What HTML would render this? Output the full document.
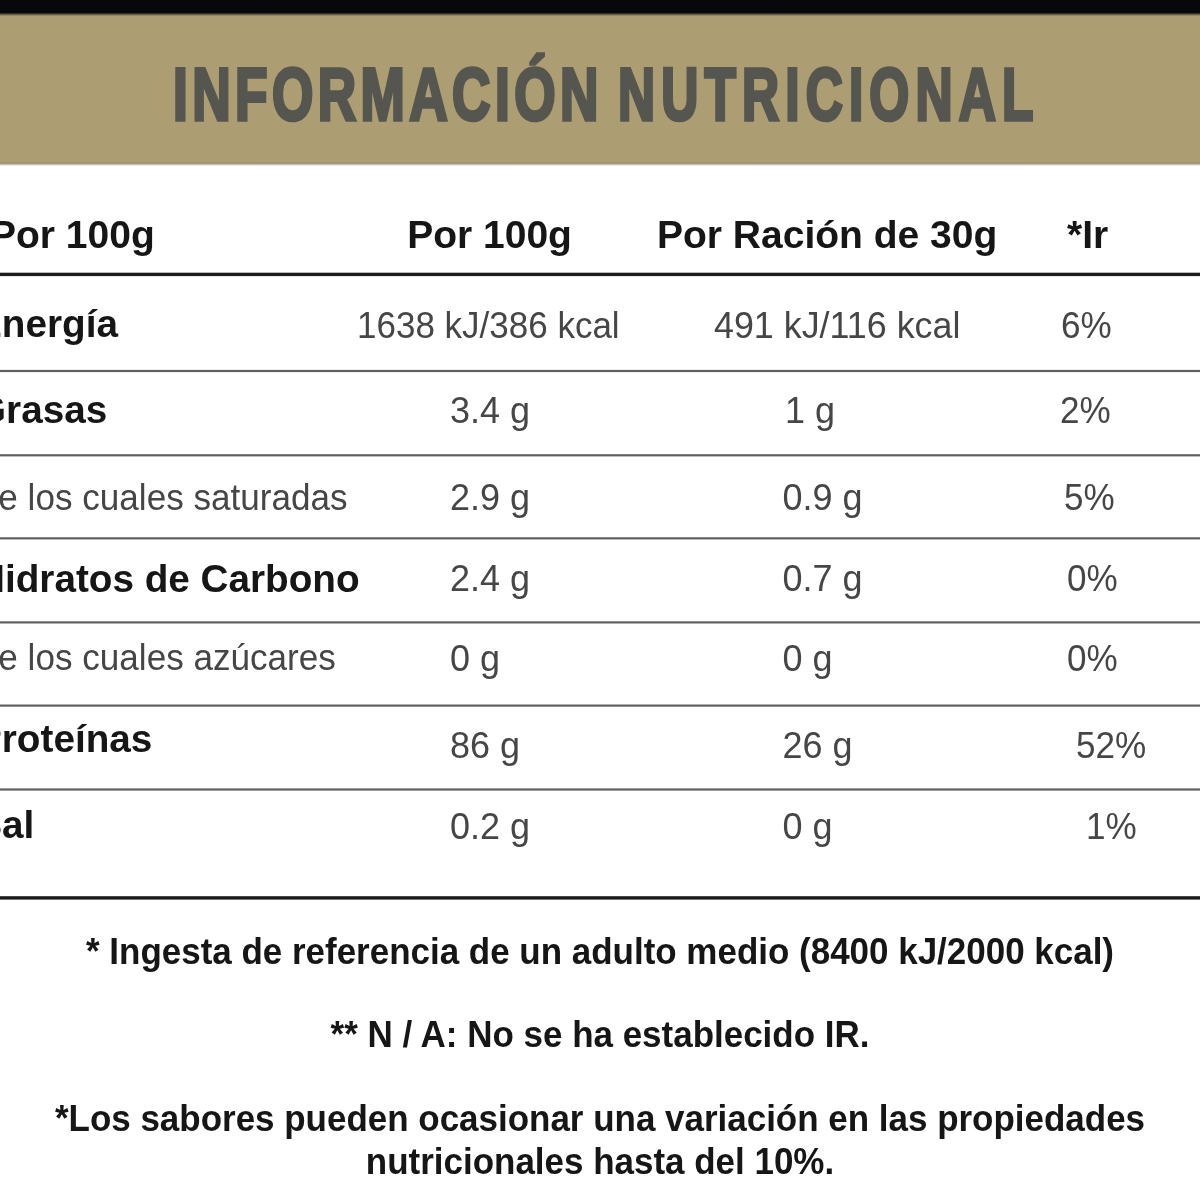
<!DOCTYPE html>
<html lang="es">
<head>
<meta charset="utf-8">
<title>Información Nutricional</title>
<style>
html,body{margin:0;padding:0;}
html{overflow:hidden;width:1200px;height:1200px;}
body{width:1200px;height:1200px;position:relative;overflow:hidden;background:#fff;font-family:"Liberation Sans",sans-serif;color:#2a2a2a;}
.topbar{position:absolute;left:0;top:0;width:1200px;height:16px;background:linear-gradient(to bottom,#07080b 0,#07080b 12.6px,#ad9d72 16px);}
.band{position:absolute;left:0;top:16px;width:1200px;height:150px;background:linear-gradient(to bottom,#ad9d72 0,#ad9d72 145.5px,#9b9075 147.3px,#fff 150px);}
.title{position:absolute;left:0;top:0;width:1200px;height:165px;margin:0;font-size:74px;line-height:76px;font-weight:700;color:#55564f;}
.title span{filter:blur(.45px);position:absolute;top:57px;white-space:nowrap;transform-origin:0 0;-webkit-text-stroke:3.6px #55564f;}
.lines{position:absolute;left:0;top:0;}
.t{filter:blur(.45px);position:absolute;white-space:nowrap;margin:0;line-height:1;transform-origin:0 0;}
.h{font-weight:700;color:#161616;font-size:39px;}
.r{font-size:36px;color:#464646;transform:scale(.975,1.03);}
.v{font-size:36px;color:#464646;transform:scaleY(1.03);}
.b{font-weight:700;color:#161616;font-size:38.7px;transform:none;}
.f{font-weight:700;color:#161616;font-size:37px;left:-0.5px;width:1200px;text-align:center;transform-origin:50% 0;transform:scaleX(.945);}
</style>
</head>
<body>
<div class="topbar"></div>
<div class="band"></div>
<h1 class="title"><span id="w1" style="left:172.94px;transform:scaleX(0.7185);letter-spacing:6.17px">INFORMACIÓN</span> <span id="w2" style="left:618.17px;transform:scaleX(0.6943);letter-spacing:8.85px">NUTRICIONAL</span></h1>

<svg class="lines" width="1200" height="1200" viewBox="0 0 1200 1200" aria-hidden="true">
<g fill="#1b1b1d"><rect x="0" y="272.7" width="1200" height="3.4"/><rect x="0" y="896.2" width="1200" height="3.4"/></g>
<g fill="#606060"><rect x="0" y="369.9" width="1200" height="2.2"/><rect x="0" y="454.2" width="1200" height="2.2"/><rect x="0" y="537.25" width="1200" height="2.2"/><rect x="0" y="621.3" width="1200" height="2.2"/><rect x="0" y="704.5" width="1200" height="2.2"/><rect x="0" y="788.4" width="1200" height="2.2"/></g>
</svg>

<p class="t h" id="h1" style="left:-10px;top:215.3px">Por 100g</p>
<p class="t h" id="h2" style="left:407.2px;top:215.3px">Por 100g</p>
<p class="t h" id="h3" style="left:657px;top:215.3px">Por Ración de 30g</p>
<p class="t h" id="h4" style="left:1067px;top:215.3px">*Ir</p>

<p class="t r b" id="r1" style="left:-24px;top:305px">Energía</p>
<p class="t v" id="r1a" style="left:356.75px;top:306.5px;transform:scale(.972,1.03)">1638 kJ/386 kcal</p>
<p class="t v" id="r1b" style="left:713.5px;top:306.5px;transform:scale(.9955,1.03)">491 kJ/116 kcal</p>
<p class="t v" id="r1c" style="left:1060.8px;top:306.5px;transform:scale(.975,1.03)">6%</p>

<p class="t r b" id="r2" style="left:-24px;top:390.75px">Grasas</p>
<p class="t v" id="r2a" style="left:450px;top:392px">3.4 g</p>
<p class="t v" id="r2b" style="left:785px;top:392px">1 g</p>
<p class="t v" id="r2c" style="left:1059.8px;top:392px;transform:scale(.975,1.03)">2%</p>

<p class="t r" id="r3" style="left:-27px;top:478.75px">De los cuales saturadas</p>
<p class="t v" id="r3a" style="left:450px;top:478.75px">2.9 g</p>
<p class="t v" id="r3b" style="left:782.5px;top:478.75px">0.9 g</p>
<p class="t v" id="r3c" style="left:1063.7px;top:478.75px;transform:scale(.975,1.03)">5%</p>

<p class="t r b" id="r4" style="left:-23px;top:560.25px">Hidratos de Carbono</p>
<p class="t v" id="r4a" style="left:450px;top:560.25px">2.4 g</p>
<p class="t v" id="r4b" style="left:782.5px;top:560.25px">0.7 g</p>
<p class="t v" id="r4c" style="left:1067px;top:560.25px;transform:scale(.975,1.03)">0%</p>

<p class="t r" id="r5" style="left:-27px;top:639px">De los cuales azúcares</p>
<p class="t v" id="r5a" style="left:450px;top:639.5px">0 g</p>
<p class="t v" id="r5b" style="left:782.5px;top:639.5px">0 g</p>
<p class="t v" id="r5c" style="left:1067px;top:639.5px;transform:scale(.975,1.03)">0%</p>

<p class="t r b" id="r6" style="left:-24px;top:720px">Proteínas</p>
<p class="t v" id="r6a" style="left:450px;top:726.5px">86 g</p>
<p class="t v" id="r6b" style="left:782.5px;top:726.5px">26 g</p>
<p class="t v" id="r6c" style="left:1076.4px;top:726.5px;transform:scale(.975,1.03)">52%</p>

<p class="t r b" id="r7" style="left:-23.75px;top:805.75px">Sal</p>
<p class="t v" id="r7a" style="left:450px;top:807.5px">0.2 g</p>
<p class="t v" id="r7b" style="left:782.5px;top:807.5px">0 g</p>
<p class="t v" id="r7c" style="left:1086px;top:807.5px;transform:scale(.975,1.03)">1%</p>

<p class="t f" id="f1" style="top:933.4px">* Ingesta de referencia de un adulto medio (8400 kJ/2000 kcal)</p>
<p class="t f" id="f2" style="top:1016px">** N / A: No se ha establecido IR.</p>
<p class="t f" id="f3" style="top:1100px">*Los sabores pueden ocasionar una variación en las propiedades</p>
<p class="t f" id="f4" style="top:1142.7px">nutricionales hasta del 10%.</p>
</body>
</html>
